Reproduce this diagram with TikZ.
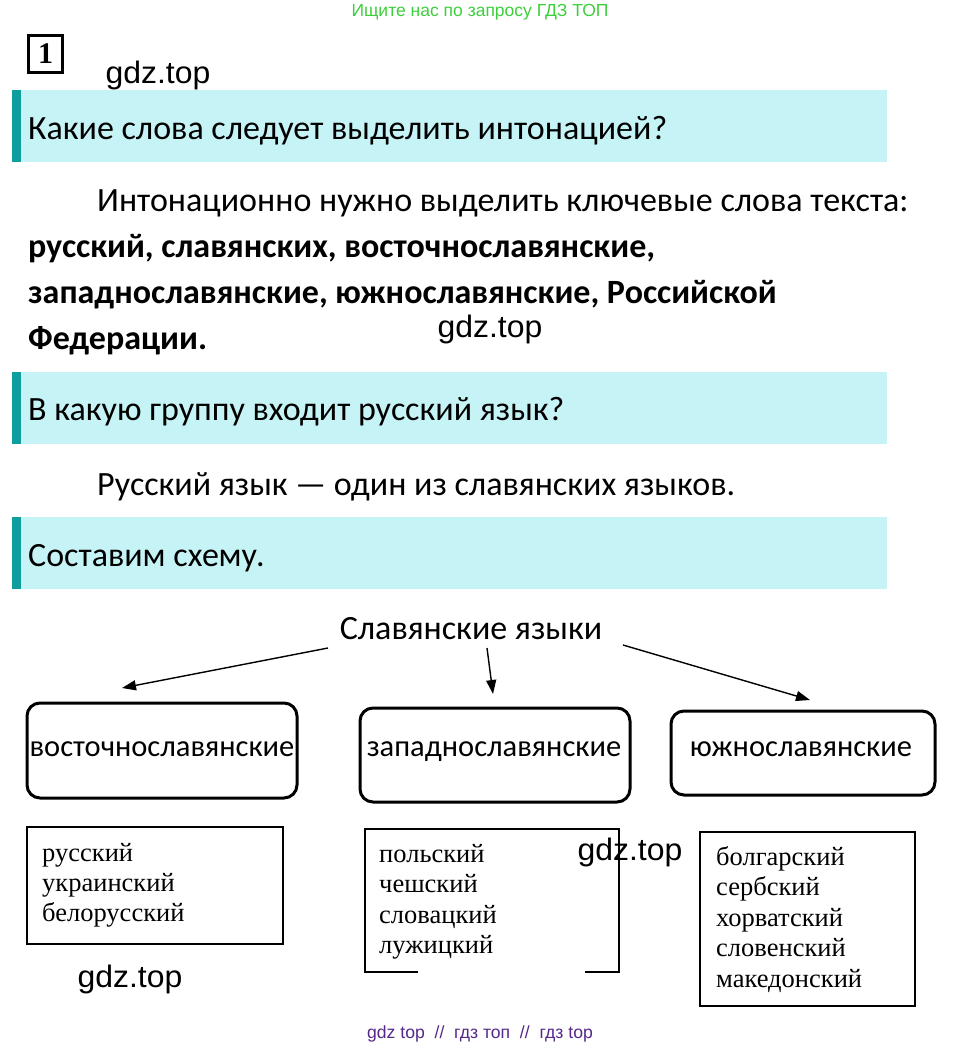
\documentclass[tikz,border=0pt]{standalone}
\usepackage{fontspec}
\setmainfont{Carlito}
\newfontfamily\wm{Liberation Sans}
\newfontfamily\tnr{Liberation Serif}
\usetikzlibrary{arrows.meta}
\definecolor{band}{HTML}{C6F4F6}
\definecolor{bar}{HTML}{0E9E9E}
\definecolor{hdr}{HTML}{3CCF3C}
\definecolor{ftr}{HTML}{55288A}
\tikzset{
  qtext/.style={anchor=base west, inner sep=0pt, font=\fontsize{34}{40}\selectfont},
  ptext/.style={anchor=base west, inner sep=0pt, font=\fontsize{34}{40}\selectfont},
  btext/.style={ptext, font=\bfseries\fontsize{34}{40}\selectfont},
  watermark/.style={inner sep=0pt, font=\wm\fontsize{31}{34}\selectfont, xscale=1.03},
  groupbox/.style={draw, line width=3pt, rounded corners=13pt, inner sep=0pt},
  grouplabel/.style={anchor=base, inner sep=0pt, font=\fontsize{30.5}{34}\selectfont},
  listtext/.style={anchor=base west, inner sep=0pt, font=\tnr\fontsize{26.5}{30}\selectfont},
  listbox/.style={draw, line width=1.3pt},
  arr/.style={-{Triangle[length=14pt,width=10pt]}, line width=1.4pt},
}
\begin{document}
\begin{tikzpicture}[x=1pt,y=-1pt]
\useasboundingbox (0,0) rectangle (960,1049);
% header
\node[inner sep=0pt, text=hdr, font=\wm\fontsize{17.5}{20}\selectfont] (hdr) at (480,12) {Ищите нас по запросу ГДЗ ТОП};
% number box
\node[draw, line width=2.6pt, inner sep=0pt, minimum width=34pt, minimum height=37pt, font=\tnr\bfseries\fontsize{30}{30}\selectfont] (num) at (45.5,54) {1};
% band 1
\fill[band] (12,90) rectangle (887,162);
\fill[bar] (12,90) rectangle (21,162);
\node[qtext] (q1) at (28,139) {Какие слова следует выделить интонацией?};
\node[watermark] (w1) at (158,75) {gdz.top};
% paragraph
\node[ptext] (p1) at (97,211) {Интонационно нужно выделить ключевые слова текста:};
\node[btext] (p2) at (28,257) {русский, славянских, восточнославянские,};
\node[btext] (p3) at (28,303) {западнославянские, южнославянские, Российской};
\node[btext] (p4) at (28,349) {Федерации.};
\node[watermark] (w2) at (490,329) {gdz.top};
% band 2
\fill[band] (12,372) rectangle (887,444);
\fill[bar] (12,372) rectangle (21,444);
\node[qtext] (q2) at (28,420) {В какую группу входит русский язык?};
\node[ptext] (p5) at (97,495) {Русский язык — один из славянских языков.};
% band 3
\fill[band] (12,517) rectangle (887,589);
\fill[bar] (12,517) rectangle (21,589);
\node[qtext] (q3) at (28,566) {Составим схему.};
% diagram
\node[inner sep=0pt, anchor=base, font=\fontsize{34}{40}\selectfont] (root) at (471,639) {Славянские языки};
\node[groupbox, minimum width=270pt, minimum height=95pt] (g1) at (162,750.5) {};
\node[groupbox, minimum width=270pt, minimum height=94pt] (g2) at (495,755) {};
\node[groupbox, minimum width=264pt, minimum height=84pt] (g3) at (803,753) {};
\node[grouplabel] (l1) at (162,756) {восточнославянские};
\node[grouplabel] (l2) at (494,756) {западнославянские};
\node[grouplabel] (l3) at (801,756) {южнославянские};
\coordinate (s1) at (328,648);
\coordinate (e1) at (122,688);
\coordinate (s2) at (487,648);
\coordinate (e2) at (493,694);
\coordinate (s3) at (623,645);
\coordinate (e3) at (810,700);
\draw[arr] (s1) -- (e1);
\draw[arr] (s2) -- (e2);
\draw[arr] (s3) -- (e3);
% lists
\node[listbox, minimum width=256pt, minimum height=117pt] (bA) at (155,885.5) {};
\node[listtext] (tA1) at (42,861) {русский};
\node[listtext] (tA2) at (42,891) {украинский};
\node[listtext] (tA3) at (42,921) {белорусский};
\draw[line width=1.3pt] (418,972) -- (365,972) -- (365,829) -- (619,829) -- (619,972) -- (585,972);
\node[listtext] (tB1) at (379,862) {польский};
\node[listtext] (tB2) at (379,892.5) {чешский};
\node[listtext] (tB3) at (379,923) {словацкий};
\node[listtext] (tB4) at (379,953.5) {лужицкий};
\node[listbox, minimum width=215pt, minimum height=174pt] (bC) at (807.5,919) {};
\node[listtext] (tC1) at (716,865) {болгарский};
\node[listtext] (tC2) at (716,895.5) {сербский};
\node[listtext] (tC3) at (716,926) {хорватский};
\node[listtext] (tC4) at (716,956.5) {словенский};
\node[listtext] (tC5) at (716,987) {македонский};
\node[watermark] (w3) at (630,852) {gdz.top};
\node[watermark] (w4) at (130,979) {gdz.top};
% footer
\node[inner sep=0pt, text=ftr, font=\wm\fontsize{17.6}{20}\selectfont] (ftr) at (480,1034) {gdz top\ \ //\ \ гдз топ\ \ //\ \ гдз top};
\end{tikzpicture}
\end{document}
